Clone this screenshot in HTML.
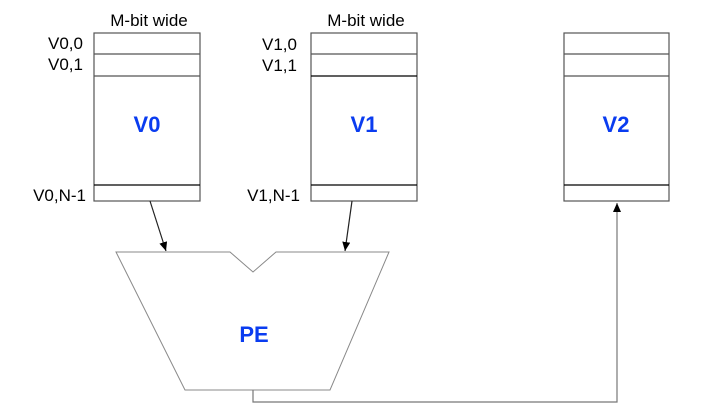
<!DOCTYPE html>
<html><head><style>body{margin:0;background:#fff}</style></head><body>
<svg width="715" height="411" xmlns="http://www.w3.org/2000/svg" font-family="Liberation Sans, sans-serif">
<defs><marker id="a" markerWidth="10" markerHeight="10" refX="9" refY="4" orient="auto" markerUnits="userSpaceOnUse"><path d="M0,0 L9,4 L0,8 z" fill="#000"/></marker></defs>
<g fill="none" stroke="#555" stroke-width="1.2">
<rect x="94" y="33" width="106" height="168"/>
<line x1="94" y1="54" x2="200" y2="54"/><line x1="94" y1="76" x2="200" y2="76"/><line x1="94" y1="185" x2="200" y2="185" stroke="#000"/>
<rect x="311" y="33" width="106" height="168"/>
<line x1="311" y1="54" x2="417" y2="54"/><line x1="311" y1="76" x2="417" y2="76" stroke="#000"/><line x1="311" y1="185" x2="417" y2="185" stroke="#000"/>
<rect x="564" y="33" width="105" height="168"/>
<line x1="564" y1="54" x2="669" y2="54"/><line x1="564" y1="76" x2="669" y2="76"/><line x1="564" y1="185" x2="669" y2="185" stroke="#000"/>
<path d="M116,252 L230,252 L253,272 L276,252 L389,252 L330,390 L185,390 Z" stroke="#888" stroke-width="1"/>
<path d="M253,390 L253,402 L617,402 L617,203" stroke="#777" marker-end="url(#a)"/>
<line x1="150" y1="201" x2="166" y2="251" stroke="#222" marker-end="url(#a)"/>
<line x1="352" y1="201" x2="345" y2="251" stroke="#222" marker-end="url(#a)"/>
</g>
<g font-size="17" fill="#000">
<text x="149" y="26" text-anchor="middle">M-bit wide</text>
<text x="366" y="26" text-anchor="middle">M-bit wide</text>
<text x="83" y="49" text-anchor="end">V0,0</text>
<text x="83" y="70" text-anchor="end">V0,1</text>
<text x="86" y="201" text-anchor="end">V0,N-1</text>
<text x="297" y="50" text-anchor="end">V1,0</text>
<text x="297" y="71" text-anchor="end">V1,1</text>
<text x="300" y="201" text-anchor="end">V1,N-1</text>
</g>
<g font-size="22" font-weight="bold" fill="#0a3cf0" text-anchor="middle">
<text x="147" y="132">V0</text>
<text x="364" y="132">V1</text>
<text x="616" y="132">V2</text>
<text x="254" y="342">PE</text>
</g>
</svg>
</body></html>
